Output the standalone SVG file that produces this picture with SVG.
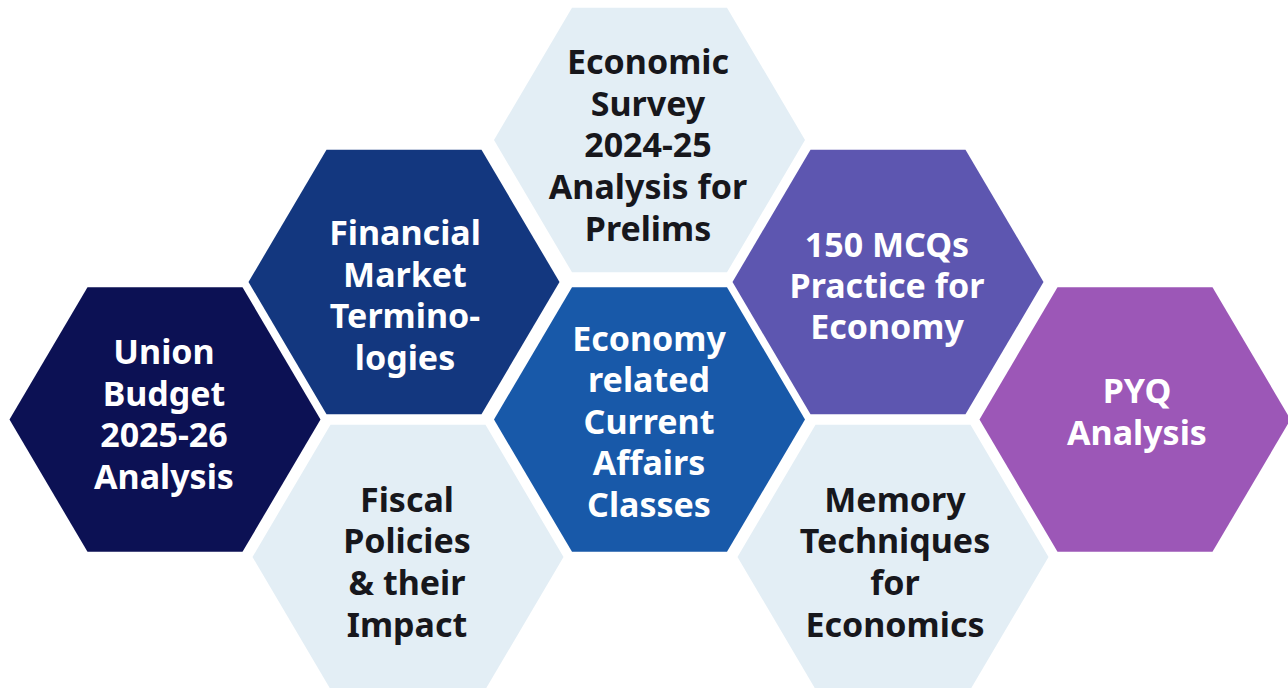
<svg xmlns="http://www.w3.org/2000/svg" xmlns:xlink="http://www.w3.org/1999/xlink" width="1288" height="688" viewBox="0 0 1288 688">
<defs>
<style>
text{font-family:"Noto Sans","Open Sans","DejaVu Sans",sans-serif;font-weight:700;font-size:34px;text-anchor:middle}
.w{fill:#ffffff}
.d{fill:#17171c}
.c1{fill:#0c1154}
.c2{fill:#13377f}
.c3{fill:#1859a9}
.c4{fill:#5d56b0}
.c5{fill:#9c57b7}
.lt{fill:#e3eef5}
</style>
<polygon id="hex" points="-155.5,0 -77.5,-132.3 77.5,-132.3 155.5,0 77.5,132.3 -77.5,132.3"/>
</defs>
<rect width="1288" height="688" fill="#ffffff"/>
<g id="connectors"></g>
<g id="union-budget">
<use xlink:href="#hex" class="c1" transform="translate(165,419.5)"/>
<text class="w" x="164"><tspan x="164" y="364">Union</tspan><tspan x="164" y="405.5">Budget</tspan><tspan x="164" y="447">2025-26</tspan><tspan x="164" y="488.5">Analysis</tspan></text>
</g>
<g id="financial-market">
<use xlink:href="#hex" class="c2" transform="translate(404,282)"/>
<text class="w"><tspan x="405" y="245">Financial</tspan><tspan x="405" y="286.5">Market</tspan><tspan x="405" y="328">Termino-</tspan><tspan x="405" y="369.5">logies</tspan></text>
</g>
<g id="economic-survey">
<use xlink:href="#hex" class="lt" transform="translate(649.5,140)"/>
<text class="d"><tspan x="648" y="74">Economic</tspan><tspan x="648" y="115.7">Survey</tspan><tspan x="648" y="157.3">2024-25</tspan><tspan x="648" y="199">Analysis for</tspan><tspan x="648" y="240.7">Prelims</tspan></text>
</g>
<g id="economy-current-affairs">
<use xlink:href="#hex" class="c3" transform="translate(649.5,419.5)"/>
<text class="w"><tspan x="649" y="350.7">Economy</tspan><tspan x="649" y="392.2">related</tspan><tspan x="649" y="433.7">Current</tspan><tspan x="649" y="475.2">Affairs</tspan><tspan x="649" y="516.7">Classes</tspan></text>
</g>
<g id="mcq-practice">
<use xlink:href="#hex" class="c4" transform="translate(888,282)"/>
<text class="w"><tspan x="887" y="256.7">150 MCQs</tspan><tspan x="887" y="298">Practice for</tspan><tspan x="887" y="339.3">Economy</tspan></text>
</g>
<g id="pyq-analysis">
<use xlink:href="#hex" class="c5" transform="translate(1135,419.5)"/>
<text class="w"><tspan x="1137" y="403.3">PYQ</tspan><tspan x="1137" y="445">Analysis</tspan></text>
</g>
<g id="fiscal-policies">
<use xlink:href="#hex" class="lt" transform="translate(408,557)"/>
<text class="d"><tspan x="407" y="511.7">Fiscal</tspan><tspan x="407" y="553.3">Policies</tspan><tspan x="407" y="595">&amp; their</tspan><tspan x="407" y="636.7">Impact</tspan></text>
</g>
<g id="memory-techniques">
<use xlink:href="#hex" class="lt" transform="translate(893,557)"/>
<text class="d"><tspan x="895" y="511.7">Memory</tspan><tspan x="895" y="553.3">Techniques</tspan><tspan x="895" y="595">for</tspan><tspan x="895" y="636.7">Economics</tspan></text>
</g>
</svg>
